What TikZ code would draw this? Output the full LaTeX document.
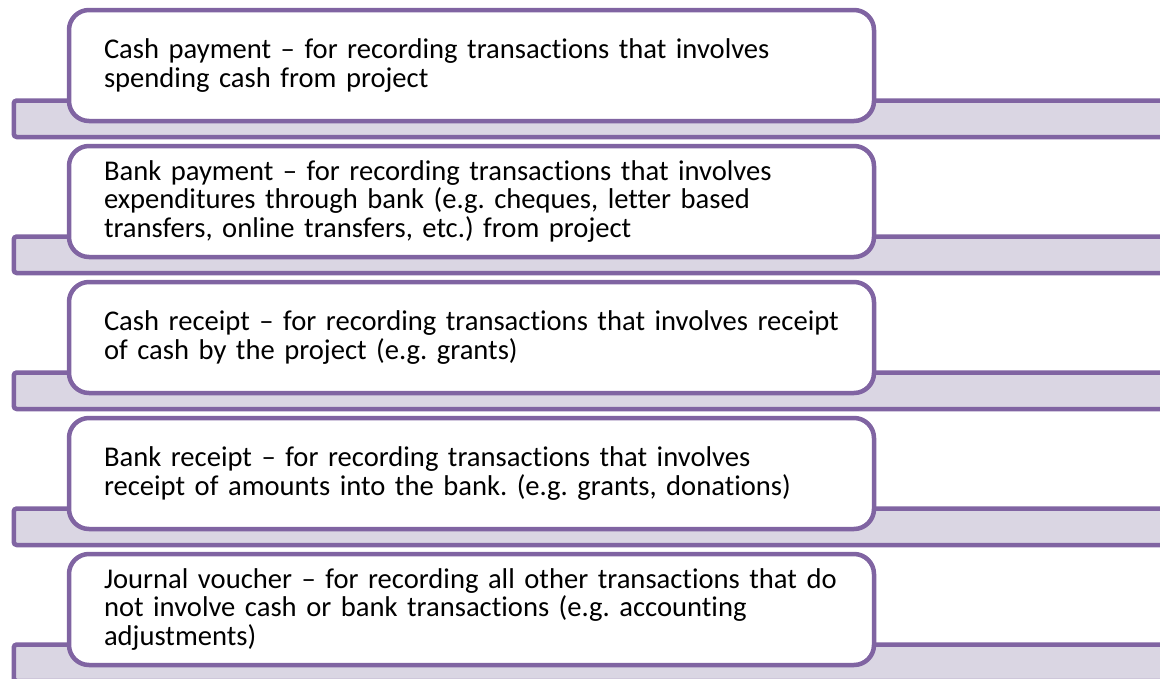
\documentclass[tikz,border=0pt]{standalone}
\usepackage{fontspec}
\setmainfont{Carlito}[Ligatures=NoCommon]
\frenchspacing
\definecolor{vpurple}{RGB}{128,100,162}
\definecolor{vbar}{RGB}{218,214,227}
\tikzset{
  barbox/.style={draw=vpurple, fill=vbar, line width=4.5pt, rounded corners=3pt,
    minimum width=1250pt, minimum height=36.5pt, inner sep=0pt, anchor=west},
  itembox/.style={draw=vpurple, fill=white, line width=4.5pt, rounded corners=20pt,
    minimum width=805pt, minimum height=111pt, inner xsep=35pt, inner ysep=0pt,
    text width=735pt, align=left, font=\fontsize{28.6}{28.6}\selectfont}
}
\begin{document}
\begin{tikzpicture}[x=1pt,y=-1pt]
\useasboundingbox (0,0) rectangle (1160,678);
\clip (0,0) rectangle (1160,678);
\foreach \i in {0,...,4}{
  \node[barbox] (bar\i) at (11.5, 118.75+136*\i) {};
}
\node[itembox] (box0) at (471.5, 65.5) {Cash payment -- for recording transactions that involves\\spending cash from project};
\node[itembox] (box1) at (471.5, 201.5) {Bank payment -- for recording transactions that involves\\expenditures through bank (e.g. cheques, letter based\\transfers, online transfers, etc.) from project};
\node[itembox] (box2) at (471.5, 337.5) {Cash receipt -- for recording transactions that involves receipt\\of cash by the project (e.g. grants)};
\node[itembox] (box3) at (471.5, 473.5) {Bank receipt -- for recording transactions that involves\\receipt of amounts into the bank. (e.g. grants, donations)};
\node[itembox] (box4) at (471.5, 609.5) {Journal voucher -- for recording all other transactions that do\\not involve cash or bank transactions (e.g. accounting\\adjustments)};
\end{tikzpicture}
\end{document}
